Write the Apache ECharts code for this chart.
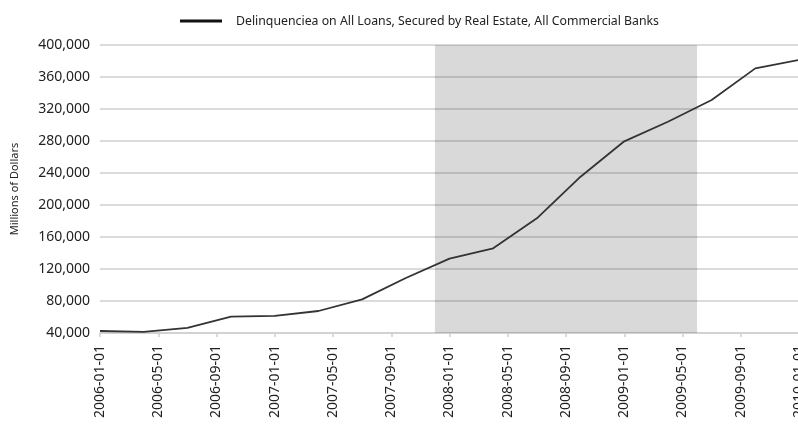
<!DOCTYPE html>
<html><head><meta charset="utf-8">
<script src="https://cdn.jsdelivr.net/npm/echarts@6/dist/echarts.min.js"></script>
<style>html,body{margin:0;padding:0;background:#fff}#c{width:798px;height:428px}</style>
</head><body><div id="c"></div>
<script>
// Quarterly observations
const dates = ['2006-01-01','2006-04-01','2006-07-01','2006-10-01','2007-01-01','2007-04-01','2007-07-01','2007-10-01','2008-01-01','2008-04-01','2008-07-01','2008-10-01','2009-01-01','2009-04-01','2009-07-01','2009-10-01','2010-01-01'];
const values = [42500,41500,46500,60400,61300,67500,82000,108800,132900,145800,183300,235400,279600,304100,331300,370800,381300];
const seriesName = 'Delinquenciea on All Loans, Secured by Real Estate, All Commercial Banks';
const recession = ['2007-12-01','2009-06-01'];
const yTicks = [40000,80000,120000,160000,200000,240000,280000,320000,360000,400000];

function monthIdx(s){const [y,m]=s.split('-').map(Number);return (y-2006)*12+(m-1);}
function idxToDate(i){const y=2006+Math.floor(i/12);const m=(i%12)+1;return y+'-'+String(m).padStart(2,'0')+'-01';}

const chart = echarts.init(document.getElementById('c'));
chart.setOption({
  animation:false,
  textStyle:{fontFamily:'Noto Sans'},
  legend:{left:175,top:10,icon:'rect',itemWidth:42,itemHeight:3,itemGap:14,
    textStyle:{fontSize:12.3,color:'#222',fontFamily:'Noto Sans',padding:[0,0,0,9]},
    data:[{name:seriesName,itemStyle:{color:'#111'}}]},
  grid:{left:100,right:-1,top:45,bottom:95,containLabel:false,outerBoundsMode:'none'},
  xAxis:{type:'value',min:0,max:48,interval:4,
    axisLine:{lineStyle:{color:'#cfcfcf',width:1.5}},
    axisTick:{show:true,length:4,lineStyle:{color:'#cfcfcf',width:1.5}},
    splitLine:{show:false},
    axisLabel:{rotate:90,fontSize:14,color:'#222',margin:12,formatter:v=>idxToDate(v)}},
  yAxis:{type:'value',min:yTicks[0],max:yTicks[yTicks.length-1],interval:40000,
    name:'Millions of Dollars',nameLocation:'middle',nameGap:80,
    nameTextStyle:{fontSize:11,color:'#222'},
    axisLine:{show:false},axisTick:{show:false},
    splitLine:{lineStyle:{color:'#cfcfcf',width:1.5}},
    axisLabel:{fontSize:14,color:'#222',margin:10,formatter:v=>v.toLocaleString('en-US')}},
  series:[{name:seriesName,type:'line',symbol:'none',
    lineStyle:{color:'#333',width:1.8},
    data:dates.map((d,i)=>[monthIdx(d),values[i]]),
    markArea:{silent:true,itemStyle:{color:'rgba(0,0,0,0.15)'},
      data:[[{xAxis:monthIdx(recession[0])},{xAxis:monthIdx(recession[1])}]]}}]
});
</script></body></html>
